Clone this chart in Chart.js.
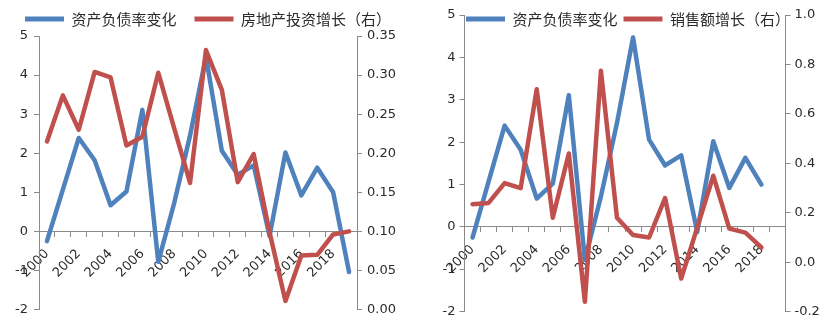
<!DOCTYPE html>
<html>
<head>
<meta charset="utf-8">
<script src="https://cdn.jsdelivr.net/npm/chart.js@4"></script>
<style>
  html, body { margin: 0; padding: 0; background: #ffffff; }
  #wrap { position: relative; width: 830px; height: 332px; overflow: hidden; }
  .cell { position: absolute; top: 0; width: 415px; height: 332px; }
</style>
</head>
<body>
<div id="wrap">
  <div class="cell" style="left:0"><canvas id="c1" width="415" height="332"></canvas></div>
  <div class="cell" style="left:415px"><canvas id="c2" width="415" height="332"></canvas></div>
</div>
<script>
// ---- data ----
const years = ['2000','2001','2002','2003','2004','2005','2006','2007','2008','2009',
               '2010','2011','2012','2013','2014','2015','2016','2017','2018','2019'];
const debtRatioChange = [-0.25, 1.07, 2.39, 1.82, 0.67, 1.02, 3.11, -0.78, 0.72, 2.45,
                         4.47, 2.06, 1.45, 1.69, -0.12, 2.02, 0.92, 1.63, 1.00, -1.04];
const propertyInvestGrowth = [0.215, 0.274, 0.230, 0.304, 0.297, 0.210, 0.221, 0.303, 0.232, 0.162,
                              0.332, 0.281, 0.163, 0.199, 0.099, 0.011, 0.069, 0.070, 0.096, 0.100];
const salesGrowth = [0.235, 0.240, 0.320, 0.300, 0.700, 0.180, 0.440, -0.160, 0.775, 0.180,
                     0.110, 0.100, 0.260, -0.066, 0.140, 0.350, 0.136, 0.120, 0.060];
const debtRatioChangeRight = debtRatioChange.slice(0, 19);
const seriesNames = ['资产负债率变化', '房地产投资增长（右）', '销售额增长（右）'];

// ---- styles ----
const BLUE = '#4F81BD', RED = '#C0504D', AXIS = '#8a8a8a', TXT = '#2b2b2b';
const tickFont = { family: 'DejaVu Sans', size: 13 };
const legendFont = { family: 'Noto Sans CJK SC', size: 15 };

const legendShift = {
  id: 'legendShift',
  afterLayout(chart, args, opts) {
    const lg = chart.legend;
    if (!lg) return;
    lg.left = opts.left; lg.right = chart.width;
    lg.top = opts.top; lg.bottom = opts.top + 45; lg.height = 45;
    lg.width = chart.width - opts.left;
  }
};

function makeChart(id, cfg) {
  const datasets = [
    { label: seriesNames[0], data: cfg.blue, yAxisID: 'y', borderColor: BLUE, backgroundColor: BLUE,
      borderWidth: 4.5, pointRadius: 0, pointHoverRadius: 0, tension: 0, order: 2,
      borderJoinStyle: 'round', borderCapStyle: 'round' },
    { label: cfg.redName, data: cfg.red, yAxisID: 'y1', borderColor: RED, backgroundColor: RED,
      borderWidth: 4.5, pointRadius: 0, pointHoverRadius: 0, tension: 0, order: 1,
      borderJoinStyle: 'round', borderCapStyle: 'round' }
  ];
  return new Chart(document.getElementById(id), {
    type: 'line',
    data: { labels: years, datasets },
    plugins: [legendShift],
    options: {
      responsive: false,
      animation: false,
      layout: { padding: { top: cfg.padTop, bottom: cfg.padBottom, left: 0, right: 0 } },
      plugins: {
        tooltip: { enabled: false },
        legendShift: { left: cfg.legendLeft, top: cfg.legendTop },
        legend: {
          display: true, position: 'top', align: 'start', maxHeight: 1,
          labels: {
            boxWidth: 39, boxHeight: 5, padding: cfg.legendPad, color: TXT, font: legendFont,
            sort: (a, b) => a.datasetIndex - b.datasetIndex,
            generateLabels(chart) {
              const items = Chart.defaults.plugins.legend.labels.generateLabels(chart);
              items.forEach(it => { it.lineWidth = 0; it.fillStyle = it.strokeStyle; });
              return items;
            }
          }
        }
      },
      scales: {
        x: {
          type: 'category', offset: true,
          position: { y: 0 },
          grid: { display: true, drawOnChartArea: false, drawTicks: true, tickLength: 5, offset: true, color: AXIS },
          border: { display: true, color: AXIS, width: 1 },
          ticks: {
            autoSkip: false, minRotation: 45, maxRotation: 45, padding: cfg.xPad,
            color: TXT, font: tickFont,
            callback: function (v, i) { return i % 2 === 0 ? years[i] : ''; }
          }
        },
        y: {
          position: 'left', min: -2, max: 5,
          afterFit: s => { s.width = cfg.leftW; },
          grid: { display: true, drawOnChartArea: false, drawTicks: true, tickLength: 5, color: AXIS },
          border: { display: true, color: AXIS, width: 1 },
          ticks: { stepSize: 1, padding: cfg.yPadL, color: TXT, font: tickFont }
        },
        y1: {
          position: 'right', min: cfg.rMin, max: cfg.rMax,
          afterFit: s => { s.width = cfg.rightW; },
          grid: { display: true, drawOnChartArea: false, drawTicks: true, tickLength: 5, color: AXIS },
          border: { display: true, color: AXIS, width: 1 },
          ticks: { stepSize: cfg.rStep, padding: cfg.yPadR, color: TXT, font: tickFont,
                   callback: v => (Math.abs(v) < 1e-9 ? 0 : Number(v)).toFixed(cfg.rDec) }
        }
      }
    }
  });
}

makeChart('c1', {
  blue: debtRatioChange, red: propertyInvestGrowth, redName: seriesNames[1],
  padTop: 35, padBottom: 22.5, leftW: 39, rightW: 58,
  rMin: 0, rMax: 0.35, rStep: 0.05, rDec: 2,
  legendLeft: 7, legendTop: -6.5, legendPad: 18,
  xPad: 10, yPadL: 6, yPadR: 5
});
makeChart('c2', {
  blue: debtRatioChangeRight, red: salesGrowth, redName: seriesNames[2],
  padTop: 14, padBottom: 20.3, leftW: 49.5, rightW: 44.5,
  rMin: -0.2, rMax: 1.0, rStep: 0.2, rDec: 1,
  legendLeft: 45, legendTop: 5.5, legendPad: 6,
  xPad: 10, yPadL: 4, yPadR: 4
});
</script>
</body>
</html>
